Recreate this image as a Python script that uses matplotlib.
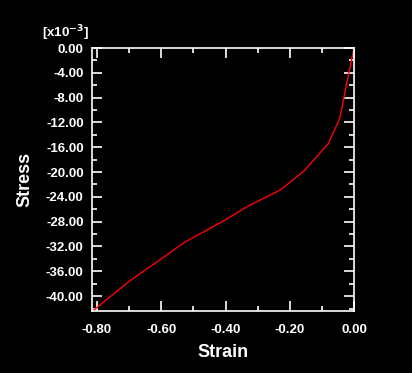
import numpy as np
import matplotlib.pyplot as plt
from matplotlib.ticker import MultipleLocator, FormatStrFormatter

# Stress-strain curve (stress in units of 1e-3)
strain = [-0.816, -0.70, -0.60, -0.53, -0.40, -0.33, -0.23, -0.155,
          -0.08, -0.044, -0.02, 0.0]
stress = [-42.5, -37.6, -34.0, -31.4, -27.7, -25.5, -22.9, -19.8,
          -15.4, -11.3, -5.0, 0.0]

plt.rcParams['font.family'] = ['Liberation Sans', 'DejaVu Sans']
plt.rcParams['font.weight'] = 'bold'

fig = plt.figure(figsize=(4.12, 3.73), dpi=100, facecolor='black')
ax = fig.add_axes([0.2233, 0.1662, 0.6359, 0.7051], facecolor='black')

ax.plot(strain, stress, c='red', lw=1)
ax.set_xlim(-0.8157, 0.0)
ax.set_ylim(-42.4, 0.0)

ax.xaxis.set_major_locator(MultipleLocator(0.2))
ax.xaxis.set_minor_locator(MultipleLocator(0.1))
ax.yaxis.set_major_locator(MultipleLocator(4))
ax.yaxis.set_minor_locator(MultipleLocator(2))
ax.xaxis.set_major_formatter(FormatStrFormatter('%.2f'))
ax.yaxis.set_major_formatter(FormatStrFormatter('%.2f'))

for side in ax.spines.values():
    side.set_color('white')
    side.set_linewidth(1.2)
ax.tick_params(which='both', direction='in', colors='white',
               top=True, right=True, width=1.2, labelsize=9.5)
ax.tick_params(which='major', length=7.5, pad=6)
ax.tick_params(axis='x', which='major', pad=9)
ax.tick_params(which='minor', length=3.8)

ax.set_xlabel('Strain', color='white', fontsize=13, fontweight='bold',
              labelpad=6)
ax.set_ylabel('Stress', color='white', fontsize=13, fontweight='bold',
              labelpad=9)
fig.text(0.102, 0.912, r'[x10$^{-3}$]', color='white', fontsize=9.5,
         fontweight='bold', ha='left', va='center')

fig.savefig('out.png', dpi=100, facecolor='black')
